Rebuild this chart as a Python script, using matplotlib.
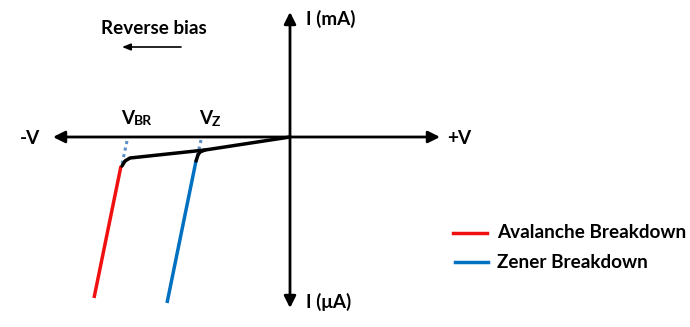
import numpy as np
import matplotlib.pyplot as plt

# diagram in image-pixel coordinates (x right, y down)
axis_x = [53, 440]      # horizontal axis, left tip / right tip
axis_y = [12, 308]      # vertical axis, top tip / bottom tip
origin = [290, 137]

# forward/leakage part (black)
leak_x = [290, 205, 130, 125, 122]
leak_y = [137, 150, 158, 161, 166]
knee_z_x = [205, 200, 198, 196]
knee_z_y = [150, 152, 155, 161]

# breakdown lines
aval_x = [121, 94]
aval_y = [166, 298]
zener_x = [196, 167]
zener_y = [161, 303]

# dotted extensions toward the voltage axis
dot_br_x = [127, 122]
dot_br_y = [141, 164]
dot_z_x = [201, 196]
dot_z_y = [140, 162]

red = "#F01010"
blue = "#0070C0"
font = "Lato"
fs = 13.6

fig = plt.figure(figsize=(6.9, 3.27), dpi=100)
ax = fig.add_axes([0, 0, 1, 1])
ax.set_xlim(0, 690)
ax.set_ylim(327, 0)
ax.axis("off")

arrow = dict(arrowstyle="-|>,head_length=0.7,head_width=0.35", color="black", lw=2, shrinkA=0, shrinkB=0)
ax.annotate("", xy=(axis_x[0], origin[1]), xytext=(origin[0], origin[1]), arrowprops=arrow)
ax.annotate("", xy=(axis_x[1], origin[1]), xytext=(origin[0], origin[1]), arrowprops=arrow)
ax.annotate("", xy=(origin[0], axis_y[0]), xytext=(origin[0], origin[1]), arrowprops=arrow)
ax.annotate("", xy=(origin[0], axis_y[1]), xytext=(origin[0], origin[1]), arrowprops=arrow)

# small "reverse bias" arrow
small = dict(arrowstyle="-|>,head_length=0.5,head_width=0.2", color="black", lw=1.2, shrinkA=0, shrinkB=0)
ax.annotate("", xy=(122, 47), xytext=(181, 47), arrowprops=small)

ax.plot(dot_br_x, dot_br_y, color="#5B8FC8", lw=2.2, linestyle=(0, (1, 1.2)))
ax.plot(dot_z_x, dot_z_y, color="#5B8FC8", lw=2.2, linestyle=(0, (1, 1.2)))

ax.plot(aval_x, aval_y, color=red, lw=2.5, solid_capstyle="butt")
ax.plot(zener_x, zener_y, color=blue, lw=2.5, solid_capstyle="butt")
ax.plot(leak_x, leak_y, color="black", lw=2.5, solid_joinstyle="round", solid_capstyle="round")
ax.plot(knee_z_x, knee_z_y, color="black", lw=2.5, solid_joinstyle="round", solid_capstyle="round")

txt = dict(family=font, fontweight="bold", fontsize=fs, color="black", va="center")
sub = dict(family=font, fontweight="bold", fontsize=10, color="black", va="center")
ax.text(20, 139, "-V", **txt)
ax.text(447, 139, "+V", **txt)
ax.text(306, 19, "I (mA)", **txt)
ax.text(306, 302, "I (\u03bcA)", **txt)
ax.text(101, 28, "Reverse bias", **txt)
ax.text(121, 118, "V", **txt)
ax.text(134, 121, "BR", **sub)
ax.text(199, 119, "V", **txt)
ax.text(212, 122, "Z", **sub)

# legend
ax.plot([453, 487], [233, 233], color=red, lw=2.5)
ax.plot([455, 488], [262, 262], color=blue, lw=2.5)
ax.text(497, 233, "Avalanche Breakdown", **txt)
ax.text(497, 262, "Zener Breakdown", **txt)

plt.savefig("out.png", dpi=100)
